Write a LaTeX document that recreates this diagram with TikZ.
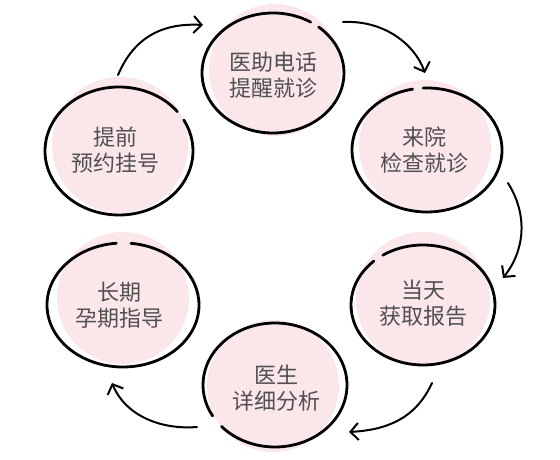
\documentclass[tikz,border=0pt]{standalone}
\usepackage{fontspec}
\newfontfamily\cjk{Noto Sans CJK SC}
\usetikzlibrary{arrows.meta}
\definecolor{pinkfill}{HTML}{FBE6EA}
\definecolor{txtgray}{HTML}{505050}
\begin{document}
\begin{tikzpicture}[x=1pt,y=1pt,
  outline/.style={draw=black,line width=2.8pt,line cap=round},
  blob/.style={fill=pinkfill,draw=none},
  label/.style={align=center,text=txtgray,font=\cjk\fontsize{22}{26}\selectfont,inner sep=0pt},
  flow/.style={draw=black,line width=2pt,line cap=round,-{Straight Barb[length=8pt,width=17pt,line width=2pt]}}]
\useasboundingbox (0,0) rectangle (560,460);
% pink fills
\fill[blob] (275,390) circle (66);
\fill[blob] (425,314) circle (66);
\fill[blob] (423,161) circle (67);
\fill[blob] (273,74) circle (66);
\fill[blob] (123,162) circle (66);
\fill[blob] (120,315) circle (68);
% outlines with gaps
\draw[outline] (273,387) ++(58:71 and 60) arc[start angle=58,end angle=410,x radius=71,y radius=60];
\draw[outline] (427,310) ++(101:75 and 62) arc[start angle=101,end angle=453,x radius=75,y radius=62];
\draw[outline] (423,155) ++(133:72 and 60) arc[start angle=133,end angle=484,x radius=72,y radius=60];
\draw[outline] (275,75) ++(222:72 and 62) arc[start angle=222,end angle=570,x radius=72,y radius=62];
\draw[outline] (123,155) ++(95:76 and 62) arc[start angle=95,end angle=444,x radius=76,y radius=62];
\draw[outline] (119,309) ++(38:74 and 64) arc[start angle=38,end angle=389,x radius=74,y radius=64];
% texts
\node[label] (t1) at (273,385) {医助电话\\提醒就诊};
\node[label] (t2) at (424,310) {来院\\检查就诊};
\node[label] (t3) at (423,157) {当天\\获取报告};
\node[label] (t4) at (276,72) {医生\\详细分析};
\node[label] (t5) at (119,155) {长期\\孕期指导};
\node[label] (t6) at (115,310) {提前\\预约挂号};
% arrow end points
\coordinate (a1s) at (118,385); \coordinate (a1e) at (203,435);
\coordinate (a2s) at (343,438); \coordinate (a2e) at (425,387);
\coordinate (a3s) at (508,277); \coordinate (a3e) at (503,182);
\coordinate (a4s) at (432,77);  \coordinate (a4e) at (349,28);
\coordinate (a5s) at (197,33);  \coordinate (a5e) at (112,77);
\draw[flow] (a1s) .. controls (135,425) and (165,437) .. (a1e);
\draw[flow] (a2s) .. controls (385,440) and (415,415) .. (a2e);
\draw[flow] (a3s) .. controls (528,245) and (525,210) .. (a3e);
\draw[flow] (a4s) .. controls (415,40) and (385,30) .. (a4e);
\draw[flow] (a5s) .. controls (160,30) and (125,45) .. (a5e);
\end{tikzpicture}
\end{document}
